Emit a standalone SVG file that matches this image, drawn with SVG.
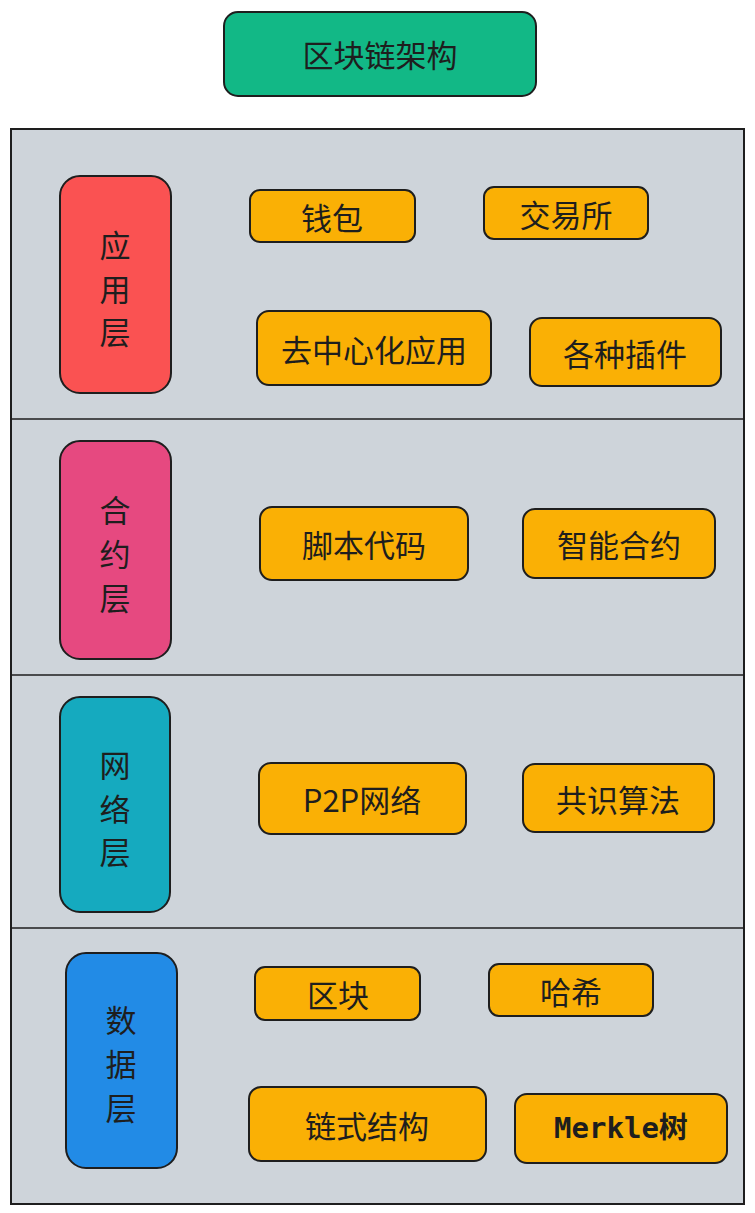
<svg xmlns="http://www.w3.org/2000/svg" width="755" height="1213" viewBox="0 0 755 1213">
<style>
.b{stroke:#1e1e1e;stroke-width:2}
.t{font-family:"Noto Sans CJK SC","Noto Sans",sans-serif;font-size:31px;fill:#1e1e1e;text-anchor:middle;dominant-baseline:central}
.o{fill:#fab005}
.ln{stroke:#1e1e1e;stroke-width:1.5;fill:none}
</style>
<rect width="755" height="1213" fill="#ffffff"/>
<g id="frame">
<rect x="11" y="129" width="733" height="1075" fill="#ced4da" class="b"/>
</g>
<g id="connectors">
<line x1="11" y1="419" x2="744" y2="419" class="ln"/>
<line x1="11" y1="675" x2="744" y2="675" class="ln"/>
<line x1="11" y1="928" x2="744" y2="928" class="ln"/>
</g>
<g id="title"><rect x="224" y="12" width="312" height="84" rx="14" fill="#12b886" class="b"/><text class="t" x="380" y="53">区块链架构</text></g>
<g id="l1"><rect x="60" y="176" width="111" height="217" rx="20" fill="#fa5252" class="b"/><text class="t" x="115" y="243">应</text><text class="t" x="115" y="287">用</text><text class="t" x="115" y="330">层</text></g>
<g id="l2"><rect x="60" y="441" width="111" height="218" rx="20" fill="#e64980" class="b"/><text class="t" x="115" y="508">合</text><text class="t" x="115" y="552">约</text><text class="t" x="115" y="596">层</text></g>
<g id="l3"><rect x="60" y="697" width="110" height="215" rx="20" fill="#15aabf" class="b"/><text class="t" x="115" y="763">网</text><text class="t" x="115" y="807">络</text><text class="t" x="115" y="850">层</text></g>
<g id="l4"><rect x="66" y="953" width="111" height="215" rx="20" fill="#228be6" class="b"/><text class="t" x="121" y="1018">数</text><text class="t" x="121" y="1062">据</text><text class="t" x="121" y="1106">层</text></g>
<g id="n1"><rect x="250" y="190" width="165" height="52" rx="10" class="o b"/><text class="t" x="332" y="216">钱包</text></g>
<g id="n2"><rect x="484" y="187" width="164" height="52" rx="10" class="o b"/><text class="t" x="566" y="213">交易所</text></g>
<g id="n3"><rect x="257" y="311" width="234" height="74" rx="12" class="o b"/><text class="t" x="374" y="348">去中心化应用</text></g>
<g id="n4"><rect x="530" y="318" width="191" height="68" rx="12" class="o b"/><text class="t" x="625" y="352">各种插件</text></g>
<g id="n5"><rect x="260" y="507" width="208" height="73" rx="12" class="o b"/><text class="t" x="364" y="543">脚本代码</text></g>
<g id="n6"><rect x="523" y="509" width="192" height="69" rx="12" class="o b"/><text class="t" x="619" y="543">智能合约</text></g>
<g id="n7"><rect x="259" y="763" width="207" height="71" rx="12" class="o b"/><text class="t" x="362" y="798">P2P网络</text></g>
<g id="n8"><rect x="523" y="764" width="191" height="68" rx="12" class="o b"/><text class="t" x="618" y="798">共识算法</text></g>
<g id="n9"><rect x="255" y="967" width="165" height="53" rx="10" class="o b"/><text class="t" x="338" y="993">区块</text></g>
<g id="n10"><rect x="489" y="964" width="164" height="52" rx="10" class="o b"/><text class="t" x="571" y="990">哈希</text></g>
<g id="n11"><rect x="249" y="1087" width="237" height="74" rx="12" class="o b"/><text class="t" x="367" y="1124">链式结构</text></g>
<g id="n12"><rect x="515" y="1094" width="212" height="69" rx="12" class="o b"/><text class="t" x="621" y="1128" style="font-family:'DejaVu Sans Mono','Noto Sans CJK SC',monospace;font-weight:bold;font-size:29px">Merkle树</text></g>
</svg>
